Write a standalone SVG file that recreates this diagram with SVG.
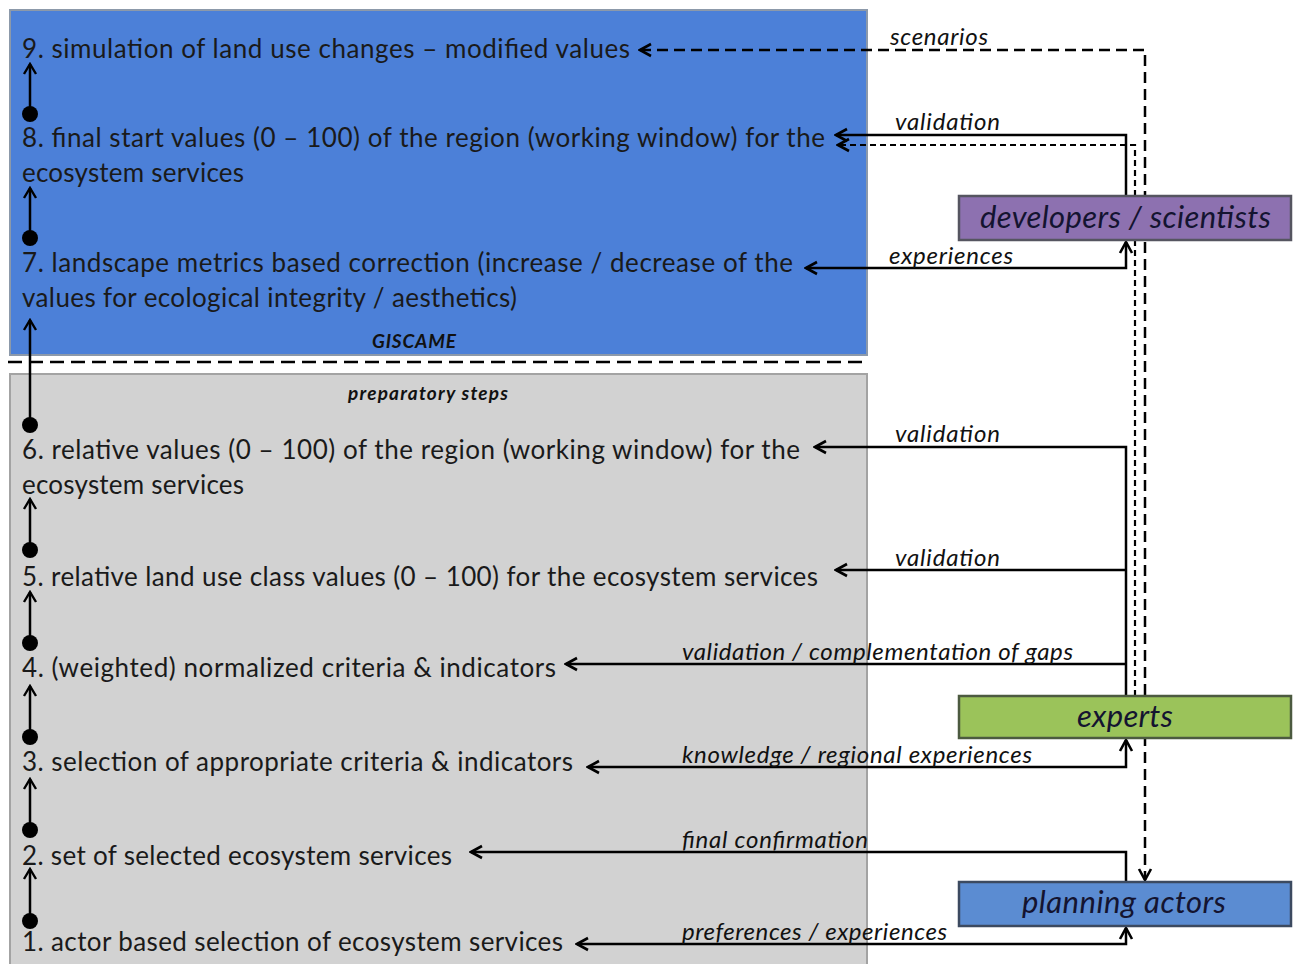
<svg xmlns="http://www.w3.org/2000/svg" width="1293" height="964" viewBox="0 0 1293 964">
  <defs>
    <marker id="arr" markerUnits="userSpaceOnUse" markerWidth="16" markerHeight="16" viewBox="0 0 16 16" refX="14" refY="8" orient="auto-start-reverse">
      <path d="M3,2 L14,8 L3,14" fill="none" stroke="#000" stroke-width="2.6" stroke-linejoin="miter"/>
    </marker>
    <marker id="up" markerUnits="userSpaceOnUse" markerWidth="16" markerHeight="16" viewBox="0 0 16 16" refX="14" refY="8" orient="auto">
      <path d="M4,2 L14,8 L4,14" fill="none" stroke="#000" stroke-width="2.4"/>
    </marker>
  </defs>
  <style>
    .step { font-family: Lato, "Open Sans", sans-serif; font-size: 26px; fill: #1a1a1a; }
    .lbl { font-family: Lato, "Open Sans", sans-serif; font-size: 24px; font-style: italic; fill: #111; }
    .box { font-family: Lato, "Open Sans", sans-serif; font-size: 31px; font-style: italic; fill: #141430; }
    .sec { font-family: Lato, "Open Sans", sans-serif; font-size: 19px; font-style: italic; font-weight: bold; fill: #111; }
    .solid { fill: none; stroke: #000; stroke-width: 2.5; }
    .dash { fill: none; stroke: #000; stroke-width: 2.5; stroke-dasharray: 11 6; }
    .fine { fill: none; stroke: #000; stroke-width: 2.2; stroke-dasharray: 6 4; }
    .dot { fill: #000; }
  </style>

  <rect width="1293" height="964" fill="#fff"/>

  <!-- GISCAME area -->
  <g id="giscame">
    <rect x="10" y="10" width="857" height="345" fill="#4c80d8" stroke="#8c99aa" stroke-width="2"/>
    <text class="sec" x="372" y="348" textLength="84">GISCAME</text>
  </g>

  <!-- separator between tool and preparation -->
  <line x1="8" y1="362" x2="866" y2="362" stroke="#000" stroke-width="2.5" stroke-dasharray="14 7"/>

  <!-- preparatory steps area -->
  <g id="preparatory">
    <rect x="10" y="374" width="857" height="600" fill="#d2d2d2" stroke="#a3a3a3" stroke-width="2"/>
    <text class="sec" x="348" y="400" textLength="160">preparatory steps</text>
  </g>

  <!-- workflow steps -->
  <g id="step9"><text class="step" x="22" y="58" textLength="608">9. simulation of land use changes – modified values</text></g>
  <g id="step8">
    <text class="step" x="22" y="147" textLength="803">8. final start values (0 – 100) of the region (working window) for the</text>
    <text class="step" x="22" y="182" textLength="222">ecosystem services</text>
  </g>
  <g id="step7">
    <text class="step" x="22" y="272" textLength="771">7. landscape metrics based correction (increase / decrease of the</text>
    <text class="step" x="22" y="307" textLength="495">values for ecological integrity / aesthetics)</text>
  </g>
  <g id="step6">
    <text class="step" x="22" y="459" textLength="778">6. relative values (0 – 100) of the region (working window) for the</text>
    <text class="step" x="22" y="494" textLength="222">ecosystem services</text>
  </g>
  <g id="step5"><text class="step" x="22" y="586" textLength="796">5. relative land use class values (0 – 100) for the ecosystem services</text></g>
  <g id="step4"><text class="step" x="22" y="677" textLength="534">4. (weighted) normalized criteria &amp; indicators</text></g>
  <g id="step3"><text class="step" x="22" y="771" textLength="551">3. selection of appropriate criteria &amp; indicators</text></g>
  <g id="step2"><text class="step" x="22" y="865" textLength="430">2. set of selected ecosystem services</text></g>
  <g id="step1"><text class="step" x="22" y="951" textLength="541">1. actor based selection of ecosystem services</text></g>

  <!-- connectors (drawn beneath the actor boxes) -->
  <g id="connectors">
    <!-- step sequence on the left -->
    <g>
      <line class="solid" x1="30" y1="114" x2="30" y2="64" marker-end="url(#up)"/>
      <circle class="dot" cx="30" cy="114" r="8"/>
      <line class="solid" x1="30" y1="238" x2="30" y2="188" marker-end="url(#up)"/>
      <circle class="dot" cx="30" cy="238" r="8"/>
      <line class="solid" x1="30" y1="425" x2="30" y2="320" marker-end="url(#up)"/>
      <circle class="dot" cx="30" cy="425" r="8"/>
      <line class="solid" x1="30" y1="550" x2="30" y2="499" marker-end="url(#up)"/>
      <circle class="dot" cx="30" cy="550" r="8"/>
      <line class="solid" x1="30" y1="643" x2="30" y2="592" marker-end="url(#up)"/>
      <circle class="dot" cx="30" cy="643" r="8"/>
      <line class="solid" x1="30" y1="737" x2="30" y2="686" marker-end="url(#up)"/>
      <circle class="dot" cx="30" cy="737" r="8"/>
      <line class="solid" x1="30" y1="830" x2="30" y2="779" marker-end="url(#up)"/>
      <circle class="dot" cx="30" cy="830" r="8"/>
      <line class="solid" x1="30" y1="921" x2="30" y2="869" marker-end="url(#up)"/>
      <circle class="dot" cx="30" cy="921" r="8"/>
    </g>

    <!-- scenarios: step 9 <-> planning actors -->
    <path class="dash" d="M640,50 H1145 V880" marker-start="url(#arr)" marker-end="url(#arr)"/>
    <text class="lbl" x="890" y="45" textLength="98">scenarios</text>

    <!-- developers/scientists validation of step 8 -->
    <path class="solid" d="M1126,196 V135 H836" marker-end="url(#arr)"/>
    <text class="lbl" x="895" y="130" textLength="105">validation</text>
    <!-- experts input to step 8 -->
    <path class="fine" d="M1135,696 V145 H838" marker-end="url(#arr)"/>

    <!-- experiences: step 7 <-> developers/scientists -->
    <path class="solid" d="M806,268 H1126 V242" marker-start="url(#arr)" marker-end="url(#arr)"/>
    <text class="lbl" x="889" y="264" textLength="124">experiences</text>

    <!-- experts validation / complementation -->
    <path class="solid" d="M1126,696 V447 H815" marker-end="url(#arr)"/>
    <text class="lbl" x="895" y="442" textLength="105">validation</text>
    <path class="solid" d="M1126,570 H836" marker-end="url(#arr)"/>
    <text class="lbl" x="895" y="566" textLength="105">validation</text>
    <path class="solid" d="M1126,664 H566" marker-end="url(#arr)"/>
    <text class="lbl" x="682" y="660" textLength="391">validation / complementation of gaps</text>

    <!-- knowledge: step 3 <-> experts -->
    <path class="solid" d="M588,767 H1126 V740" marker-start="url(#arr)" marker-end="url(#arr)"/>
    <text class="lbl" x="682" y="763" textLength="350">knowledge / regional experiences</text>

    <!-- planning actors -->
    <path class="solid" d="M1126,882 V852 H471" marker-end="url(#arr)"/>
    <text class="lbl" x="682" y="848" textLength="186">final confirmation</text>
    <path class="solid" d="M577,944 H1126 V928" marker-start="url(#arr)" marker-end="url(#arr)"/>
    <text class="lbl" x="682" y="940" textLength="265">preferences / experiences</text>
  </g>

  <!-- actor groups -->
  <g id="developers">
    <rect x="959" y="196" width="332" height="44" fill="#8d71b0" stroke="#555560" stroke-width="2.5"/>
    <text class="box" x="980" y="228" textLength="291">developers / scientists</text>
  </g>
  <g id="experts">
    <rect x="959" y="696" width="332" height="42" fill="#9bc35a" stroke="#4c5a40" stroke-width="2.5"/>
    <text class="box" x="1077" y="727" textLength="96">experts</text>
  </g>
  <g id="planning">
    <rect x="959" y="882" width="332" height="44" fill="#5b8cd2" stroke="#3c4a60" stroke-width="2.5"/>
    <text class="box" x="1022" y="913" textLength="204">planning actors</text>
  </g>
</svg>
